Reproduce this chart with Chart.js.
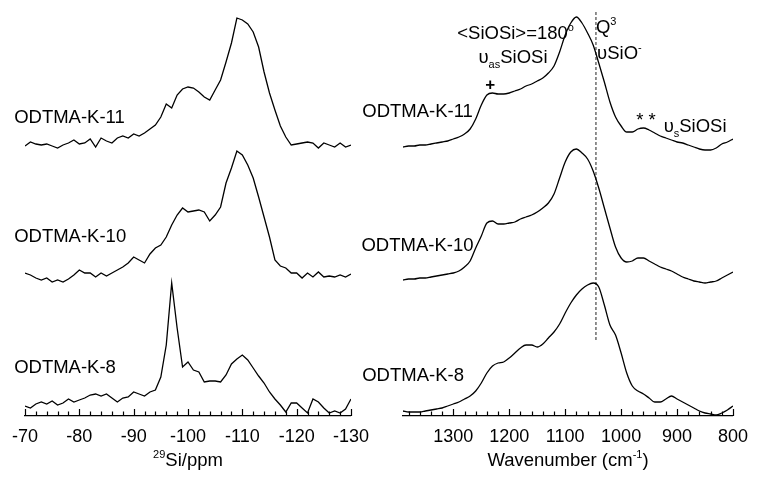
<!DOCTYPE html>
<html>
<head>
<meta charset="utf-8">
<script src="https://cdn.jsdelivr.net/npm/chart.js@4"></script>
<style>
  body { margin: 0; background: #fff; }
  #wrap { position: relative; width: 758px; height: 477px; }
  canvas { position: absolute; top: 0; }
  #nmr { left: 0; }
  #ir { left: 330px; }
</style>
</head>
<body>
<div id="wrap">
  <canvas id="nmr" width="379" height="477"></canvas>
  <canvas id="ir" width="428" height="477"></canvas>
</div>
<script>
// ---- data ----
const sampleNames = ['ODTMA-K-11', 'ODTMA-K-10', 'ODTMA-K-8'];

// 29Si NMR, ppm
const ppm = [-70,-71,-72,-73,-74,-75,-76,-77,-78,-79,-80,-81,-82,-83,-84,-85,-86,-87,-88,-89,
  -90,-91,-92,-93,-94,-95,-96,-97,-98,-99,-100,-101,-102,-103,-104,-105,-106,-107,-108,-109,
  -110,-111,-112,-113,-114,-115,-116,-117,-118,-119,-120,-121,-122,-123,-124,-125,-126,-127,-128,-129,-130];
const nmrK11 = [0,4,2,1,2,0,-2,1,3,6,2,3,7,-1,8,5,3,8,10,8,12,10,13,17,21,29,42,38,51,57,
  59,58,54,49,46,56,66,84,103,128,126,122,114,99,74,53,36,20,9,1,2,3,4,3,-2,3,1,-1,3,-1,1];
const nmrK10 = [3,1,-2,-4,-2,-6,-4,-6,-3,1,6,3,3,-1,3,0,3,6,9,13,19,16,13,22,28,31,39,51,61,68,
  64,65,66,64,55,61,69,93,108,125,121,111,98,79,59,39,16,10,8,3,3,-2,3,-1,4,-1,0,-1,1,-1,2];
const nmrK8 = [2,0,4,6,4,7,3,5,9,6,8,10,13,14,12,14,10,6,10,11,16,14,12,16,18,31,63,125,80,41,
  46,38,36,26,27,27,26,33,44,49,53,48,40,32,25,16,9,3,-4,5,5,0,-5,9,6,0,-5,-3,-5,-1,9];
const nmrOffsets = [270, 140, 8];
const nmrMajor = [-70,-80,-90,-100,-110,-120,-130];
const nmrMinor = [-70,-72,-74,-76,-78,-80,-82,-84,-86,-88,-90,-92,-94,-96,-98,-100,-102,-104,-106,-108,
  -110,-112,-114,-116,-118,-120,-122,-124,-126,-128,-130];

// FTIR, wavenumber cm-1
const wavenumber = [1390,1380,1370,1360,1350,1340,1330,1320,1310,1300,1290,1280,1270,1260,1250,1240,1230,1220,1210,1200,
  1190,1180,1170,1160,1150,1140,1130,1120,1110,1100,1090,1080,1070,1060,1050,1040,1030,1020,1010,1000,
  990,980,970,960,950,940,930,920,910,900,890,880,870,860,850,840,830,820,810,800];
const irK11 = [9,10,10,11,11,12,13,14,15,17,19,22,27,37,51,61,63,62,62,63,
  65,67,70,72,75,78,83,90,104,121,133,139,133,123,111,93,74,54,39,30,
  24,24,27,28,26,23,20,18,16,14,13,11,9,7,6,6,8,12,14,17];
const irK10 = [6,7,7,8,8,9,10,11,12,13,15,19,25,38,50,63,65,62,62,63,
  64,67,69,71,74,78,83,92,108,124,134,137,133,127,115,98,78,58,39,28,
  24,25,28,28,25,22,19,17,15,12,9,7,5,4,3,4,5,8,11,14];
const irK8 = [5,4,4,4,5,6,7,8,10,12,14,17,20,25,33,43,50,53,54,58,
  63,68,71,71,69,72,78,84,92,103,113,121,127,131,133,129,111,91,81,63,
  43,30,25,22,18,14,14,17,20,17,14,11,8,5,3,2,1,3,6,10];
const irOffsets = [260, 130, 0];
const irMajor = [1300,1200,1100,1000,900,800];
const irMinor = [1380,1360,1340,1320,1300,1280,1260,1240,1220,1200,1180,1160,1140,1120,1100,1080,1060,1040,1020,1000,
  980,960,940,920,900,880,860,840,820,800];
const q3Line = [1045, 1045];
const q3LineSpan = [76, 404];

// ---- drawing ----
const FONT = "'Liberation Sans', Arial, sans-serif";

function drawRich(ctx, segs, x, y, align) {
  const fontOf = s => (s.bold ? 'bold ' : '') + (s.sup || s.sub ? 11 : (s.size || 18.5)) + 'px ' + FONT;
  let total = 0;
  segs.forEach(s => { ctx.font = fontOf(s); total += ctx.measureText(s.t).width; });
  let cx = align === 'center' ? x - total / 2 : align === 'right' ? x - total : x;
  segs.forEach(s => {
    ctx.font = fontOf(s);
    ctx.fillText(s.t, cx, y + (s.sup ? -8 : s.sub ? 5 : 0));
    cx += ctx.measureText(s.t).width;
  });
}

function decor(texts, title) {
  return {
    id: 'decor',
    afterDraw(chart) {
      const { ctx, scales: { x, y } } = chart;
      ctx.save();
      ctx.strokeStyle = '#000';
      ctx.lineWidth = 1.2;
      x.ticks.forEach(t => {
        const px = Math.round(x.getPixelForValue(t.value)) + 0.5;
        const len = t.label ? 7 : 4.5;
        ctx.beginPath();
        ctx.moveTo(px, x.top);
        ctx.lineTo(px, x.top - len);
        ctx.stroke();
      });
      ctx.fillStyle = '#000';
      ctx.textBaseline = 'alphabetic';
      texts.forEach(a => drawRich(ctx, a.segs, x.getPixelForValue(a.x), y.getPixelForValue(a.y), a.align || 'left'));
      drawRich(ctx, title, (chart.chartArea.left + chart.chartArea.right) / 2, x.top + 50, 'center');
      ctx.restore();
    }
  };
}

function trace(xs, ys, off, smooth) {
  return {
    data: xs.map((v, i) => ({ x: v, y: ys[i] + off })),
    borderColor: '#000',
    borderWidth: 1.3,
    pointRadius: 0,
    fill: false,
    tension: smooth ? 0.4 : 0,
    cubicInterpolationMode: smooth ? 'monotone' : 'default'
  };
}

function makeOptions(min, max, ticks, major, pad) {
  return {
    responsive: false,
    animation: false,
    layout: { padding: pad },
    plugins: { legend: { display: false }, tooltip: { enabled: false } },
    scales: {
      x: {
        type: 'linear', min: min, max: max, reverse: true,
        afterBuildTicks: s => { s.ticks = ticks.map(v => ({ value: v })); },
        afterFit: s => { s.height = 61; },
        grid: { display: false, drawTicks: false },
        border: { display: true, color: '#000', width: 1.2 },
        ticks: {
          autoSkip: false, maxRotation: 0, minRotation: 0, padding: 10, color: '#000',
          font: { family: FONT, size: 18 },
          callback: v => major.includes(v) ? String(v) : ''
        }
      },
      y: { display: false, min: 0, max: 410 }
    }
  };
}

const nmrTexts = sampleNames.map((n, i) => ({ segs: [{ t: n }], x: -68, y: [293, 174, 43][i] }));

new Chart(document.getElementById('nmr'), {
  type: 'line',
  data: {
    datasets: [
      trace(ppm, nmrK11, nmrOffsets[0], false),
      trace(ppm, nmrK10, nmrOffsets[1], false),
      trace(ppm, nmrK8, nmrOffsets[2], false)
    ]
  },
  options: makeOptions(-130, -70, nmrMinor, nmrMajor, { left: 25, right: 25, top: 6, bottom: 0 }),
  plugins: [decor(nmrTexts, [{ t: '29', sup: true }, { t: 'Si/ppm' }])]
});

const irTexts = [
  { segs: [{ t: sampleNames[0] }], x: 1265, y: 299, align: 'right' },
  { segs: [{ t: sampleNames[1] }], x: 1264, y: 165, align: 'right' },
  { segs: [{ t: sampleNames[2] }], x: 1281, y: 35, align: 'right' },
  { segs: [{ t: '<SiOSi>=180' }, { t: 'o', sup: true }], x: 1293, y: 377 },
  { segs: [{ t: 'υ' }, { t: 'as', sub: true }, { t: 'SiOSi' }], x: 1255, y: 353 },
  { segs: [{ t: '+', bold: true, size: 17 }], x: 1234, y: 326, align: 'center' },
  { segs: [{ t: 'Q' }, { t: '3', sup: true }], x: 1045, y: 383 },
  { segs: [{ t: 'υSiO' }, { t: '-', sup: true }], x: 1043, y: 357 },
  { segs: [{ t: '* *' }], x: 973, y: 290 },
  { segs: [{ t: 'υ' }, { t: 's', sub: true }, { t: 'SiOSi' }], x: 924, y: 284 }
];

const q3 = {
  data: q3Line.map((v, i) => ({ x: v, y: q3LineSpan[i] })),
  borderColor: '#222',
  borderWidth: 1,
  borderDash: [3, 2],
  pointRadius: 0,
  fill: false
};

new Chart(document.getElementById('ir'), {
  type: 'line',
  data: {
    datasets: [
      trace(wavenumber, irK11, irOffsets[0], true),
      trace(wavenumber, irK10, irOffsets[1], true),
      trace(wavenumber, irK8, irOffsets[2], true),
      q3
    ]
  },
  options: makeOptions(800, 1390, irMinor, irMajor, { left: 73, right: 20, top: 6, bottom: 0 }),
  plugins: [decor(irTexts, [{ t: 'Wavenumber (cm' }, { t: '-1', sup: true }, { t: ')' }])]
});
</script>
</body>
</html>
